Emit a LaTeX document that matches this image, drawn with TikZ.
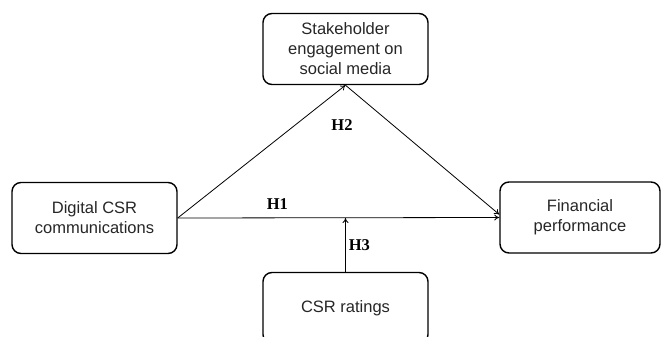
\documentclass[tikz,border=0pt]{standalone}
\usepackage{fontspec}
\setmainfont{Liberation Sans}
\newfontfamily\hypfont{Liberation Serif}
\usetikzlibrary{arrows.meta}

\begin{document}
\begin{tikzpicture}[
    x=1pt, y=-1pt,
    >={To[length=5pt,width=6pt]},
    box/.style={draw, line width=1.4pt, rounded corners=9pt,
      minimum width=165pt, minimum height=71pt, align=center, inner sep=0pt,
      text=black!85, font=\fontsize{16.5}{20}\selectfont},
    hyp/.style={inner sep=0pt, font=\hypfont\bfseries\fontsize{16.5}{20}\selectfont}
  ]
  \useasboundingbox (0,0) rectangle (662,337);
  \node[box] (dig) at (94.5,218) {Digital CSR\\communications};
  \node[box] (eng) at (345.5,49) {Stakeholder\\engagement on\\social media};
  \node[box, minimum width=160pt] (fin) at (580,217.5) {Financial\\performance};
  \node[box] (rat) at (345.5,308) {CSR ratings};
  \coordinate (mod) at (eng.south |- dig.east);

  \draw[->, line width=0.8pt] (dig.east) -- node[hyp, pos=0.31, above=8pt] (h1) {H1} (fin.west);
  \draw[->, line width=0.8pt] (dig.east) -- (eng.south);
  \draw[->, line width=0.8pt] (eng.south) -- ([yshift=3pt]fin.west);
  \draw[->, line width=0.8pt] (rat.north) -- node[hyp, right=3pt] (h3) {H3} (mod);
  \node[hyp] (h2) at (342,125) {H2};
\end{tikzpicture}
\end{document}
